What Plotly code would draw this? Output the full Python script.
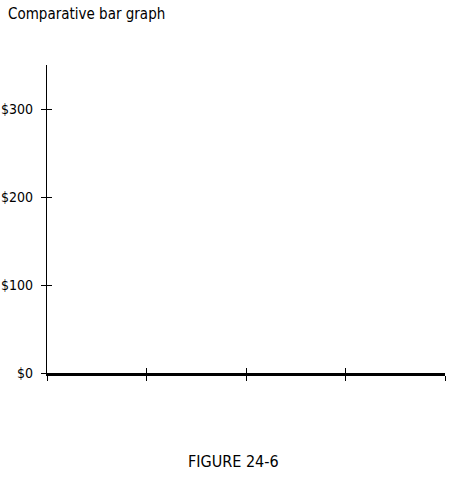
import plotly.graph_objects as go

# empty comparative bar graph: only the frame is drawn
x_ticks = [0, 1, 2, 3, 4]
y_ticks = [0, 100, 200, 300]
y_labels = ["$0", "$100", "$200", "$300"]
y_max = 350

FONT = "Liberation Sans Narrow, DejaVu Sans Condensed, Arial Narrow, sans-serif"

fig = go.Figure()
# invisible traces so both axis pairs get drawn
fig.add_trace(go.Scatter(x=[x_ticks[0]], y=[y_ticks[0]], mode="markers",
                         marker=dict(opacity=0), hoverinfo="skip", showlegend=False))
fig.add_trace(go.Scatter(x=[x_ticks[0]], y=[y_ticks[0]], mode="markers", xaxis="x2", yaxis="y2",
                         marker=dict(opacity=0), hoverinfo="skip", showlegend=False))

ax_common = dict(showgrid=False, zeroline=False, tickcolor="black", ticklen=5, tickwidth=1,
                 automargin=False)

fig.update_layout(
    width=450, height=478,
    margin=dict(l=47, r=5, t=65, b=105),
    paper_bgcolor="white", plot_bgcolor="white",
    font=dict(family=FONT, color="black", size=14),
    title=dict(text="Comparative bar graph", xref="container", x=8/450, xanchor="left",
               yref="container", y=1 - 14/478, yanchor="middle", automargin=False,
               font=dict(family=FONT, size=15, color="black")),
    xaxis=dict(range=[x_ticks[0], x_ticks[-1]], tickmode="array", tickvals=x_ticks,
               ticktext=[""] * len(x_ticks), ticks="outside", showline=True,
               linecolor="black", linewidth=2.5, **ax_common),
    yaxis=dict(range=[0, y_max], tickmode="array", tickvals=y_ticks, ticktext=y_labels,
               ticks="outside", showline=True, linecolor="black", linewidth=1.2,
               ticklabelstandoff=5, tickfont=dict(family=FONT, size=14, color="black"),
               **ax_common),
    xaxis2=dict(range=[x_ticks[0], x_ticks[-1]], overlaying="x", anchor="y2",
                tickmode="array", tickvals=x_ticks, showticklabels=False,
                ticks="inside", showline=False, **ax_common),
    yaxis2=dict(range=[0, y_max], overlaying="y", anchor="x2", tickmode="array",
                tickvals=y_ticks, showticklabels=False, ticks="inside",
                showline=False, **ax_common),
    annotations=[dict(text="FIGURE 24-6", xref="paper", yref="paper",
                      x=(233 - 47) / 398, y=(373 - 462) / 308, xanchor="center",
                      yanchor="middle", showarrow=False,
                      font=dict(family=FONT, size=16, color="black"))],
)

# drop the default body margin so the 450x478 figure sits flush in the window
fig.write_html("out.html", config={"displayModeBar": False},
               post_script="document.body.style.margin='0';")
